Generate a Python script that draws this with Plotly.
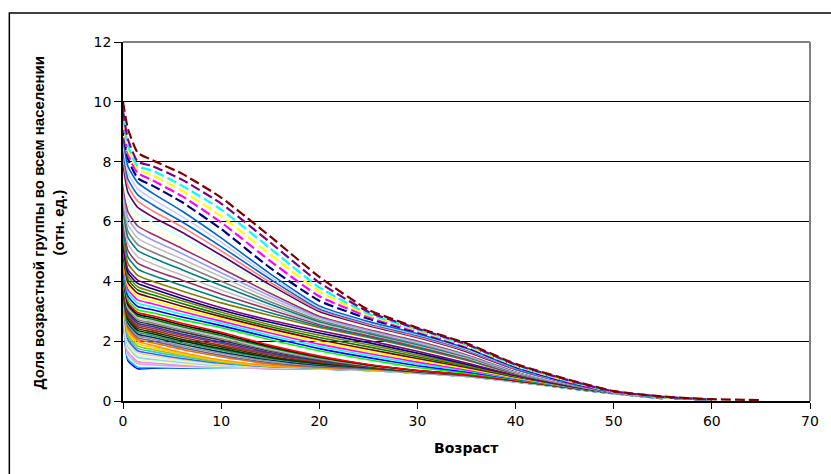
import plotly.graph_objects as go

# Ages (x values, years)
ages = [0, 0.5, 1.5, 3, 6, 10, 15, 20, 25, 30, 35, 40, 45, 50, 55, 60, 65]
x_tick_values = [0, 10, 20, 30, 40, 50, 60, 70]
y_tick_values = [0, 2, 4, 6, 8, 10, 12]
x_tick_labels = ["0", "10", "20", "30", "40", "50", "60", "70"]
y_tick_labels = ["0", "2", "4", "6", "8", "10", "12"]

# Share of age group in whole population (relative units), one list per curve, bottom -> top
s01 = [3.10, 1.35, 1.08, 1.10, 1.10, 1.10, 1.09, 1.07, 1.02, 0.93, 0.82, 0.64, 0.44, 0.24, 0.08, None, None]
s02 = [3.16, 1.42, 1.13, 1.12, 1.11, 1.10, 1.09, 1.07, 1.02, 0.93, 0.82, 0.64, 0.44, 0.24, 0.08, None, None]
s03 = [3.18, 1.51, 1.19, 1.16, 1.13, 1.11, 1.10, 1.08, 1.03, 0.94, 0.83, 0.65, 0.45, 0.25, 0.09, None, None]
s04 = [3.23, 1.58, 1.25, 1.21, 1.16, 1.12, 1.10, 1.08, 1.03, 0.94, 0.83, 0.65, 0.45, 0.25, 0.09, None, None]
s05 = [3.25, 1.67, 1.32, 1.27, 1.20, 1.14, 1.11, 1.08, 1.03, 0.94, 0.83, 0.65, 0.45, 0.25, 0.09, None, None]
s06 = [3.29, 1.74, 1.39, 1.33, 1.24, 1.16, 1.12, 1.09, 1.03, 0.94, 0.83, 0.65, 0.45, 0.25, 0.09, None, None]
s07 = [3.30, 1.83, 1.46, 1.39, 1.29, 1.18, 1.12, 1.09, 1.04, 0.95, 0.84, 0.66, 0.46, 0.26, 0.09, None, None]
s08 = [3.34, 1.90, 1.53, 1.45, 1.33, 1.21, 1.13, 1.09, 1.04, 0.95, 0.84, 0.66, 0.46, 0.26, 0.09, None, None]
s09 = [3.36, 1.99, 1.61, 1.52, 1.38, 1.23, 1.14, 1.10, 1.04, 0.95, 0.84, 0.66, 0.46, 0.26, 0.10, None, None]
s10 = [3.41, 2.06, 1.68, 1.58, 1.42, 1.26, 1.15, 1.10, 1.04, 0.95, 0.84, 0.66, 0.46, 0.26, 0.10, None, None]
s11 = [3.43, 2.15, 1.76, 1.65, 1.48, 1.29, 1.16, 1.11, 1.05, 0.96, 0.85, 0.67, 0.46, 0.26, 0.10, None, None]
s12 = [3.48, 2.22, 1.84, 1.72, 1.53, 1.31, 1.17, 1.11, 1.05, 0.96, 0.85, 0.67, 0.47, 0.26, 0.10, None, None]
s13 = [3.52, 2.31, 1.92, 1.79, 1.57, 1.34, 1.17, 1.12, 1.05, 0.96, 0.85, 0.67, 0.47, 0.27, 0.10, None, None]
s14 = [3.57, 2.38, 2.00, 1.86, 1.62, 1.37, 1.19, 1.12, 1.06, 0.97, 0.86, 0.68, 0.47, 0.27, 0.10, None, None]
s15 = [3.60, 2.45, 2.06, 1.95, 1.72, 1.48, 1.24, 1.13, 1.07, 0.97, 0.86, 0.68, 0.47, 0.27, 0.10, None, None]
s16 = [3.65, 2.51, 2.12, 2.01, 1.78, 1.53, 1.28, 1.15, 1.08, 0.97, 0.86, 0.68, 0.47, 0.27, 0.10, None, None]
s17 = [3.68, 2.57, 2.18, 2.07, 1.83, 1.59, 1.32, 1.18, 1.09, 0.97, 0.86, 0.68, 0.47, 0.27, 0.10, None, None]
s18 = [3.74, 2.62, 2.24, 2.13, 1.90, 1.64, 1.37, 1.20, 1.10, 0.98, 0.86, 0.68, 0.47, 0.27, 0.10, None, None]
s19 = [3.77, 2.69, 2.30, 2.19, 1.95, 1.70, 1.41, 1.23, 1.11, 0.98, 0.86, 0.68, 0.47, 0.27, 0.10, None, None]
s20 = [3.83, 2.73, 2.36, 2.25, 2.01, 1.75, 1.45, 1.25, 1.12, 0.98, 0.87, 0.68, 0.47, 0.27, 0.10, None, None]
s21 = [3.86, 2.80, 2.42, 2.31, 2.06, 1.81, 1.49, 1.28, 1.13, 0.99, 0.87, 0.68, 0.47, 0.27, 0.10, None, None]
s22 = [3.91, 2.85, 2.48, 2.37, 2.13, 1.86, 1.54, 1.30, 1.14, 0.99, 0.87, 0.68, 0.47, 0.27, 0.10, None, None]
s23 = [3.95, 2.91, 2.54, 2.43, 2.19, 1.92, 1.57, 1.33, 1.15, 0.99, 0.87, 0.69, 0.48, 0.27, 0.11, None, None]
s24 = [4.00, 2.96, 2.60, 2.49, 2.24, 1.97, 1.61, 1.35, 1.16, 1.00, 0.87, 0.69, 0.48, 0.27, 0.11, None, None]
s25 = [4.03, 3.02, 2.66, 2.55, 2.31, 2.03, 1.66, 1.38, 1.17, 1.00, 0.87, 0.69, 0.48, 0.27, 0.11, None, None]
s26 = [4.08, 3.08, 2.72, 2.61, 2.37, 2.08, 1.70, 1.40, 1.18, 1.00, 0.87, 0.69, 0.48, 0.27, 0.11, None, None]
s27 = [4.12, 3.13, 2.78, 2.67, 2.42, 2.14, 1.74, 1.43, 1.19, 1.01, 0.88, 0.69, 0.48, 0.27, 0.11, None, None]
s28 = [4.17, 3.19, 2.84, 2.73, 2.48, 2.19, 1.78, 1.45, 1.20, 1.01, 0.88, 0.69, 0.48, 0.27, 0.11, None, None]
s29 = [4.21, 3.24, 2.90, 2.79, 2.54, 2.25, 1.82, 1.48, 1.21, 1.02, 0.88, 0.69, 0.48, 0.27, 0.11, None, None]
s30 = [4.26, 3.30, 2.96, 2.85, 2.60, 2.30, 1.86, 1.50, 1.22, 1.02, 0.88, 0.69, 0.48, 0.27, 0.11, None, None]
s31 = [4.35, 3.40, 3.05, 2.95, 2.72, 2.45, 2.05, 1.68, 1.38, 1.12, 0.93, 0.72, 0.49, 0.27, 0.11, 0.04, None]
s32 = [4.46, 3.51, 3.16, 3.05, 2.81, 2.52, 2.12, 1.75, 1.45, 1.18, 0.97, 0.74, 0.50, 0.27, 0.11, 0.04, None]
s33 = [4.57, 3.62, 3.27, 3.15, 2.90, 2.60, 2.19, 1.83, 1.52, 1.24, 1.01, 0.75, 0.50, 0.27, 0.11, 0.04, None]
s34 = [4.69, 3.73, 3.38, 3.25, 2.99, 2.67, 2.27, 1.90, 1.59, 1.30, 1.04, 0.77, 0.51, 0.27, 0.11, 0.04, None]
s35 = [4.80, 3.85, 3.49, 3.35, 3.08, 2.75, 2.34, 1.98, 1.66, 1.36, 1.08, 0.78, 0.51, 0.27, 0.11, 0.04, None]
s36 = [4.91, 3.96, 3.60, 3.45, 3.17, 2.82, 2.41, 2.05, 1.73, 1.42, 1.12, 0.80, 0.52, 0.28, 0.11, 0.04, None]
s37 = [5.02, 4.07, 3.71, 3.55, 3.26, 2.89, 2.48, 2.12, 1.81, 1.48, 1.16, 0.82, 0.52, 0.28, 0.11, 0.04, None]
s38 = [5.13, 4.18, 3.82, 3.65, 3.35, 2.97, 2.55, 2.20, 1.88, 1.54, 1.19, 0.83, 0.53, 0.28, 0.11, 0.04, None]
s39 = [5.24, 4.29, 3.93, 3.75, 3.43, 3.04, 2.63, 2.27, 1.95, 1.60, 1.23, 0.85, 0.53, 0.28, 0.11, 0.04, None]
s40 = [5.35, 4.40, 4.04, 3.85, 3.52, 3.12, 2.70, 2.35, 2.02, 1.66, 1.27, 0.86, 0.54, 0.28, 0.11, 0.04, None]
s41 = [5.55, 4.60, 4.20, 4.00, 3.68, 3.28, 2.86, 2.46, 2.12, 1.76, 1.36, 0.90, 0.57, 0.28, 0.11, 0.04, None]
s42 = [5.77, 4.82, 4.41, 4.20, 3.86, 3.42, 2.95, 2.51, 2.16, 1.79, 1.39, 0.91, 0.57, 0.28, 0.11, 0.04, None]
s43 = [5.98, 5.03, 4.61, 4.39, 4.04, 3.57, 3.05, 2.56, 2.19, 1.83, 1.41, 0.93, 0.58, 0.28, 0.11, 0.04, None]
s44 = [6.20, 5.25, 4.82, 4.59, 4.21, 3.71, 3.14, 2.60, 2.23, 1.86, 1.44, 0.94, 0.58, 0.28, 0.11, 0.04, None]
s45 = [6.42, 5.47, 5.03, 4.79, 4.39, 3.86, 3.23, 2.65, 2.26, 1.89, 1.47, 0.96, 0.59, 0.28, 0.11, 0.04, None]
s46 = [6.63, 5.68, 5.23, 4.98, 4.57, 4.00, 3.32, 2.70, 2.30, 1.92, 1.49, 0.97, 0.59, 0.28, 0.11, 0.04, None]
s47 = [6.85, 5.90, 5.44, 5.18, 4.75, 4.15, 3.42, 2.75, 2.34, 1.96, 1.52, 0.98, 0.60, 0.28, 0.11, 0.04, None]
s48 = [7.07, 6.12, 5.65, 5.38, 4.93, 4.29, 3.51, 2.80, 2.37, 1.99, 1.55, 1.00, 0.60, 0.29, 0.11, 0.04, None]
s49 = [7.28, 6.33, 5.85, 5.58, 5.10, 4.44, 3.60, 2.84, 2.41, 2.02, 1.57, 1.01, 0.61, 0.29, 0.11, 0.04, None]
s50 = [7.50, 6.55, 6.06, 5.77, 5.28, 4.58, 3.70, 2.89, 2.44, 2.06, 1.60, 1.03, 0.61, 0.29, 0.11, 0.04, None]
s51 = [7.72, 6.77, 6.27, 5.97, 5.46, 4.73, 3.79, 2.94, 2.48, 2.09, 1.63, 1.04, 0.62, 0.29, 0.11, 0.04, None]
s52 = [7.93, 6.98, 6.47, 6.16, 5.64, 4.87, 3.88, 2.99, 2.52, 2.12, 1.65, 1.05, 0.62, 0.29, 0.11, 0.04, None]
s53 = [8.15, 7.20, 6.68, 6.36, 5.82, 5.02, 3.97, 3.04, 2.55, 2.15, 1.68, 1.07, 0.63, 0.29, 0.11, 0.04, None]
s54 = [8.37, 7.42, 6.89, 6.56, 5.99, 5.16, 4.07, 3.08, 2.59, 2.19, 1.71, 1.08, 0.63, 0.29, 0.11, 0.04, None]
s55 = [8.58, 7.63, 7.09, 6.75, 6.17, 5.31, 4.16, 3.13, 2.62, 2.22, 1.73, 1.10, 0.64, 0.29, 0.11, 0.04, None]
s56 = [8.80, 7.85, 7.30, 6.95, 6.35, 5.45, 4.25, 3.18, 2.66, 2.25, 1.76, 1.11, 0.64, 0.29, 0.11, 0.04, None]
s57 = [9.20, 8.10, 7.45, 7.20, 6.65, 5.75, 4.45, 3.35, 2.75, 2.30, 1.80, 1.15, 0.66, 0.30, 0.12, 0.05, None]
s58 = [9.30, 8.25, 7.62, 7.38, 6.85, 5.97, 4.68, 3.50, 2.82, 2.33, 1.83, 1.17, 0.68, 0.30, 0.12, 0.05, None]
s59 = [9.40, 8.40, 7.75, 7.55, 7.03, 6.18, 4.90, 3.66, 2.87, 2.36, 1.85, 1.18, 0.70, 0.31, 0.12, 0.05, None]
s60 = [9.50, 8.55, 7.85, 7.70, 7.20, 6.40, 5.10, 3.80, 2.92, 2.39, 1.88, 1.20, 0.72, 0.31, 0.13, 0.05, None]
s61 = [9.70, 8.75, 8.00, 7.85, 7.40, 6.60, 5.30, 3.96, 2.98, 2.42, 1.90, 1.22, 0.73, 0.32, 0.14, 0.05, None]
s62 = [10.0, 9.10, 8.30, 8.05, 7.60, 6.80, 5.50, 4.15, 3.05, 2.45, 1.93, 1.24, 0.75, 0.33, 0.15, 0.06, 0.03]

curves = [s01, s02, s03, s04, s05, s06, s07, s08, s09, s10,
          s11, s12, s13, s14, s15, s16, s17, s18, s19, s20,
          s21, s22, s23, s24, s25, s26, s27, s28, s29, s30,
          s31, s32, s33, s34, s35, s36, s37, s38, s39, s40,
          s41, s42, s43, s44, s45, s46, s47, s48, s49, s50,
          s51, s52, s53, s54, s55, s56, s57, s58, s59, s60,
          s61, s62]

# Styles (Excel-like palette), bottom -> top
solid_colors = [
    '#0000FF', '#00CCFF', '#CCFFFF', '#FF99CC', '#CC99FF', '#FFFF99', '#99CCFF',
    '#CCFFCC', '#FFCC99', '#3366FF', '#33CCCC', '#99CC00', '#FFCC00', '#FF9900',
    '#FF6600', '#666699', '#969696', '#003366', '#339966', '#003300', '#333300',
    '#993300', '#993366', '#333399', '#333333', '#808080', '#C0C0C0', '#008000',
    '#000000', '#FF0000',
    '#00FF00', '#0000FF', '#00FFFF', '#FF00FF', '#FFFF00', '#800000', '#008000',
    '#808000', '#000080', '#800080',
    '#808000', '#008080', '#993366', '#C0C0C0', '#008080', '#808080', '#C0C0C0',
    '#9999FF', '#993366', '#FFFFCC', '#CCFFFF', '#660066', '#FF8080', '#0066CC',
    '#CCCCFF', '#0066CC',
]
dashed_colors = ['#000080', '#FF00FF', '#FFFF00', '#00FFFF', '#800080', '#800000']
colors = solid_colors + dashed_colors

FONT = "Arial, Liberation Sans, sans-serif"
WIDE = "DejaVu Sans, Arial, sans-serif"

fig = go.Figure()
n_solid = len(solid_colors)
for i, vals in enumerate(curves):
    dashed = i >= n_solid
    fig.add_trace(go.Scatter(
        x=ages, y=vals, mode="lines",
        line=dict(color=colors[i], width=2.2 if dashed else 1.6,
                  dash="10px,4px" if dashed else "solid",
                  shape="spline", smoothing=0.5),
        showlegend=False, hoverinfo="skip",
    ))

L, R, T, B = 123, 19, 42, 73
W, H = 831, 474
pw, ph = W - L - R, H - T - B

def px_to_paper_x(px):
    return (px - L) / pw

def px_to_paper_y(py):
    return (H - B - py) / ph

fig.update_layout(
    width=W, height=H,
    margin=dict(l=L, r=R, t=T, b=B),
    paper_bgcolor="white", plot_bgcolor="white",
    font=dict(family=FONT, size=13, color="black"),
    showlegend=False,
    xaxis=dict(range=[0, 70], tickvals=x_tick_values, ticktext=x_tick_labels,
               ticks="outside", ticklen=6, tickwidth=1, tickcolor="black",
               showline=True, linecolor="black", linewidth=1.5,
               showgrid=False, zeroline=False,
               tickfont=dict(family=WIDE, size=14, color="black")),
    yaxis=dict(range=[0, 12], tickvals=y_tick_values, ticktext=y_tick_labels,
               ticks="outside", ticklen=7, tickwidth=1, tickcolor="black",
               showline=True, linecolor="black", linewidth=1.5,
               showgrid=True, gridcolor="black", gridwidth=1.2,
               zeroline=False,
               tickfont=dict(family=WIDE, size=14, color="black")),
    annotations=[
        dict(text="<b>Возраст</b>", xref="paper", yref="paper",
             x=0.5, y=px_to_paper_y(448), xanchor="center", yanchor="middle",
             showarrow=False, font=dict(family=WIDE, size=14, color="black")),
        dict(text="<b>Доля возрастной группы во всем населении<br>(отн. ед.)</b>",
             xref="paper", yref="paper", textangle=-90,
             x=px_to_paper_x(49), y=px_to_paper_y(223), xanchor="center", yanchor="middle",
             showarrow=False, font=dict(family=FONT, size=15, color="black")),
    ],
    shapes=[
        # plot area border (top and right), gray
        dict(type="line", xref="paper", yref="paper", x0=0, x1=1, y0=1, y1=1,
             line=dict(color="#808080", width=2), layer="above"),
        dict(type="line", xref="paper", yref="paper", x0=1, x1=1, y0=0, y1=1,
             line=dict(color="#808080", width=2), layer="above"),
        # outer chart border
        dict(type="rect", xref="paper", yref="paper",
             x0=px_to_paper_x(9), x1=px_to_paper_x(845),
             y0=px_to_paper_y(490), y1=px_to_paper_y(13),
             line=dict(color="black", width=1.5), fillcolor="rgba(0,0,0,0)",
             layer="above"),
    ],
)

fig.write_html("out.html", config={"displayModeBar": False},
               post_script="document.body.style.margin='0';document.body.style.overflow='hidden';")
